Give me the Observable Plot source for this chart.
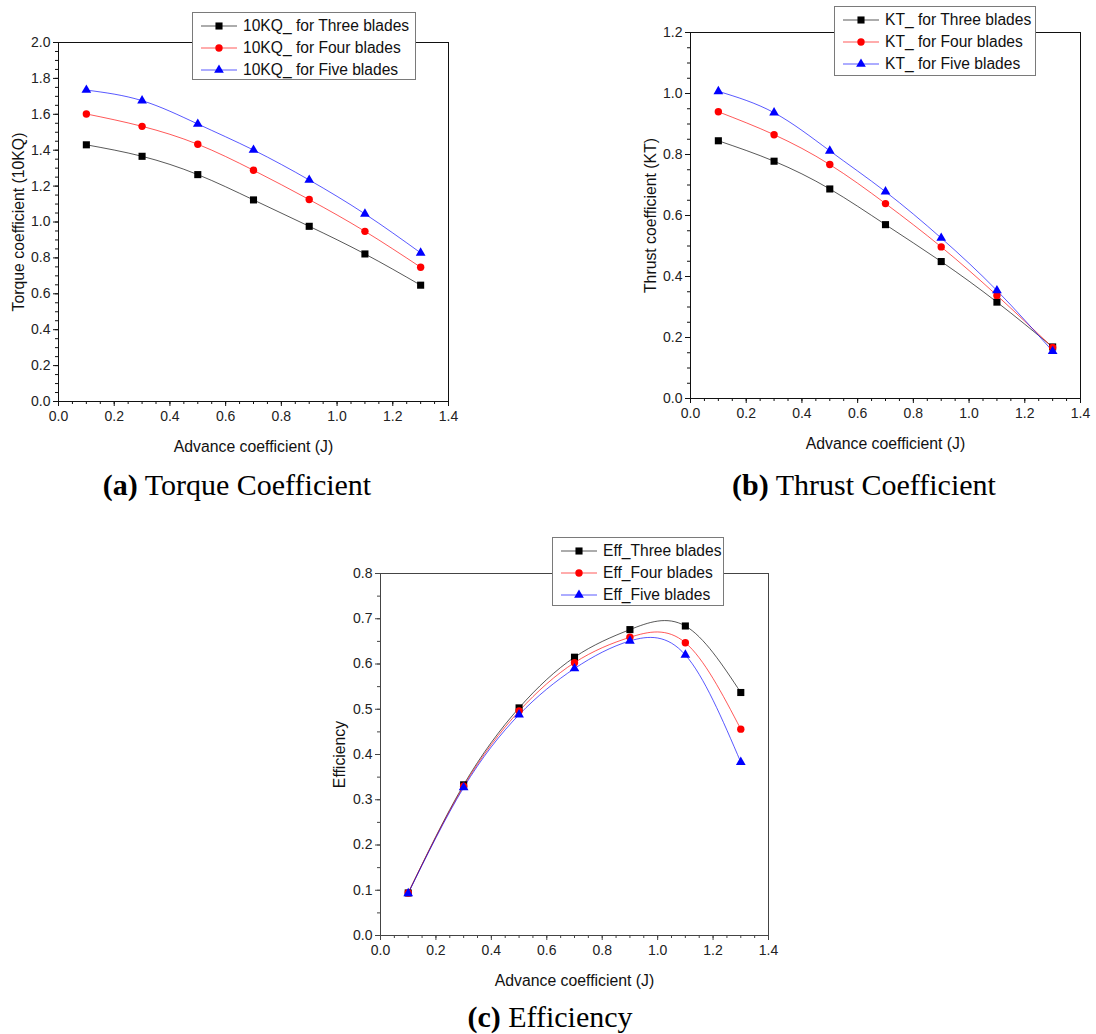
<!DOCTYPE html>
<html><head><meta charset="utf-8">
<script src="https://cdn.jsdelivr.net/npm/d3@7"></script>
<script src="https://cdn.jsdelivr.net/npm/@observablehq/plot@0.6"></script>
<style>
body{margin:0;background:#fff;}
#root{position:relative;width:1096px;height:1034px;overflow:hidden;font-family:"Liberation Sans",Arial,sans-serif;background:#fff;}
.chart{position:absolute;}
.legend{position:absolute;background:#fff;border:1px solid #7a7a7a;box-sizing:border-box;padding:2px 0 0 8px;z-index:2;}
.row{display:flex;align-items:center;height:22px;white-space:nowrap;font-size:15.6px;color:#111;}
.row span{margin-left:6px;}
.caption{position:absolute;font-family:"Liberation Serif","Times New Roman",serif;font-size:30px;line-height:30px;white-space:nowrap;color:#000;transform:translateX(-50%);}
svg g[aria-label="x-axis label"], svg g[aria-label="y-axis label"]{font-size:15.8px !important;fill:#111;}
svg g[aria-label="x-axis label"] text, svg g[aria-label="y-axis label"] text{font-size:15.8px !important;}
</style></head><body><div id="root"></div>
<script>
// ---- data ----
const J = [0.1, 0.3, 0.5, 0.7, 0.9, 1.1, 1.3];
const kq3 = [1.430, 1.366, 1.264, 1.123, 0.976, 0.822, 0.648];
const kq4 = [1.602, 1.533, 1.433, 1.288, 1.125, 0.948, 0.748];
const kq5 = [1.735, 1.676, 1.546, 1.401, 1.234, 1.045, 0.828];
const kt3 = [0.845, 0.778, 0.687, 0.570, 0.449, 0.316, 0.169];
const kt4 = [0.940, 0.865, 0.767, 0.639, 0.497, 0.338, 0.167];
const kt5 = [1.007, 0.937, 0.812, 0.678, 0.526, 0.354, 0.155];
const eff3 = [0.094, 0.333, 0.503, 0.615, 0.676, 0.684, 0.537];
const eff4 = [0.094, 0.330, 0.496, 0.603, 0.659, 0.647, 0.456];
const eff5 = [0.093, 0.327, 0.488, 0.590, 0.651, 0.620, 0.383];

const kqLabels = ["10KQ_ for Three blades", "10KQ_ for Four blades", "10KQ_ for Five blades"];
const ktLabels = ["KT_ for Three blades", "KT_ for Four blades", "KT_ for Five blades"];
const effLabels = ["Eff_Three blades", "Eff_Four blades", "Eff_Five blades"];

const xTicks = [0.0, 0.2, 0.4, 0.6, 0.8, 1.0, 1.2, 1.4];
const kqTicks = [0.0, 0.2, 0.4, 0.6, 0.8, 1.0, 1.2, 1.4, 1.6, 1.8, 2.0];
const ktTicks = [0.0, 0.2, 0.4, 0.6, 0.8, 1.0, 1.2];
const effTicks = [0.0, 0.1, 0.2, 0.3, 0.4, 0.5, 0.6, 0.7, 0.8];

const colors = ["#000000", "#ff0000", "#0000ff"];
const symbols = ["square", "circle", "triangle"];
const radii = [4, 3.7, 3.6];
const d3symbols = [d3.symbolSquare, d3.symbolCircle, d3.symbolTriangle];

const minorOf = (ticks, step) => d3.range(Math.round((ticks[ticks.length-1]-ticks[0])/step)+1).map(i => ticks[0] + i*step);

const root = document.getElementById("root");

function makeChart(cfg) {
  const series = cfg.values.map((vals, i) => ({
    data: J.map((j, k) => ({J: j, v: vals[k]})), i
  }));
  const ax = cfg.axisColor;
  const plot = Plot.plot({
    width: cfg.width, height: cfg.height,
    marginLeft: cfg.ml, marginRight: cfg.mr, marginTop: cfg.mt, marginBottom: cfg.mb,
    x: {domain: [0, 1.4]},
    y: {domain: [cfg.yTicks[0], cfg.yTicks[cfg.yTicks.length-1]]},
    style: {fontFamily: '"Liberation Sans", Arial, sans-serif', fontSize: "14px", color: "#222", background: "transparent"},
    marks: [
      Plot.axisX(minorOf(xTicks, 0.05), {tickSize: 3, text: null, label: null, stroke: ax}),
      Plot.axisX(xTicks, {tickSize: 5, tickPadding: 5, tickFormat: d => d.toFixed(1), stroke: ax, fontSize: 14,
        label: "Advance coefficient (J)", labelAnchor: "center", labelArrow: "none", labelOffset: cfg.xlo}),
      Plot.axisY(minorOf(cfg.yTicks, 0.05), {tickSize: 3, text: null, label: null, stroke: ax}),
      Plot.axisY(cfg.yTicks, {tickSize: 5, tickPadding: 3, tickFormat: d => d.toFixed(1), stroke: ax, fontSize: 14,
        label: cfg.yLabel, labelAnchor: "center", labelArrow: "none", labelOffset: cfg.ylo}),
      Plot.frame({stroke: ax}),
      ...series.map(s => Plot.line(s.data, {x: "J", y: "v", curve: "natural", stroke: colors[s.i], strokeWidth: 1, strokeOpacity: 0.65})),
      ...series.map(s => Plot.dot(s.data, {x: "J", y: "v", symbol: symbols[s.i], r: radii[s.i], fill: colors[s.i], stroke: "none"}))
    ]
  });
  plot.classList.add("chart");
  plot.style.left = cfg.left + "px";
  plot.style.top = cfg.top + "px";
  plot.style.maxWidth = "none";
  root.appendChild(plot);

  const lg = document.createElement("div");
  lg.className = "legend";
  Object.assign(lg.style, {left: cfg.lg[0] + "px", top: cfg.lg[1] + "px", width: cfg.lg[2] + "px", height: cfg.lg[3] + "px"});
  cfg.labels.forEach((lab, i) => {
    const row = document.createElement("div");
    row.className = "row";
    const svg = d3.create("svg").attr("width", 36).attr("height", 22);
    svg.append("line").attr("x1", 0).attr("x2", 36).attr("y1", 11).attr("y2", 11)
      .attr("stroke", colors[i]).attr("stroke-opacity", 0.65);
    svg.append("path").attr("transform", "translate(18,11)")
      .attr("d", d3.symbol(d3symbols[i], Math.PI * radii[i] * radii[i])()).attr("fill", colors[i]);
    row.appendChild(svg.node());
    const sp = document.createElement("span");
    sp.textContent = lab;
    row.appendChild(sp);
    lg.appendChild(row);
  });
  root.appendChild(lg);

  const cap = document.createElement("div");
  cap.className = "caption";
  cap.style.left = cfg.cap[0] + "px";
  cap.style.top = cfg.cap[1] + "px";
  cap.innerHTML = "<b>" + cfg.capTag + "</b> " + cfg.capText;
  root.appendChild(cap);
}

makeChart({values: [kq3, kq4, kq5], labels: kqLabels, yTicks: kqTicks, yLabel: "Torque coefficient (10KQ)",
  left: 0, top: 0, width: 470, height: 470, ml: 58, mr: 22, mt: 42, mb: 69, xlo: 50, ylo: 46, axisColor: "#111",
  lg: [192, 12, 224, 68], cap: [237, 470], capTag: "(a)", capText: "Torque Coefficient"});
makeChart({values: [kt3, kt4, kt5], labels: ktLabels, yTicks: ktTicks, yLabel: "Thrust coefficient (KT)",
  left: 630, top: 0, width: 466, height: 470, ml: 60, mr: 16, mt: 32, mb: 72, xlo: 50, ylo: 46, axisColor: "#111",
  lg: [834, 6, 202, 70], cap: [864, 470], capTag: "(b)", capText: "Thrust Coefficient"});
makeChart({values: [eff3, eff4, eff5], labels: effLabels, yTicks: effTicks, yLabel: "Efficiency",
  left: 320, top: 530, width: 470, height: 470, ml: 60, mr: 22, mt: 43, mb: 65, xlo: 50, ylo: 47, axisColor: "#444",
  lg: [552, 537, 172, 69], cap: [550, 1002], capTag: "(c)", capText: "Efficiency"});
</script>
</body></html>
